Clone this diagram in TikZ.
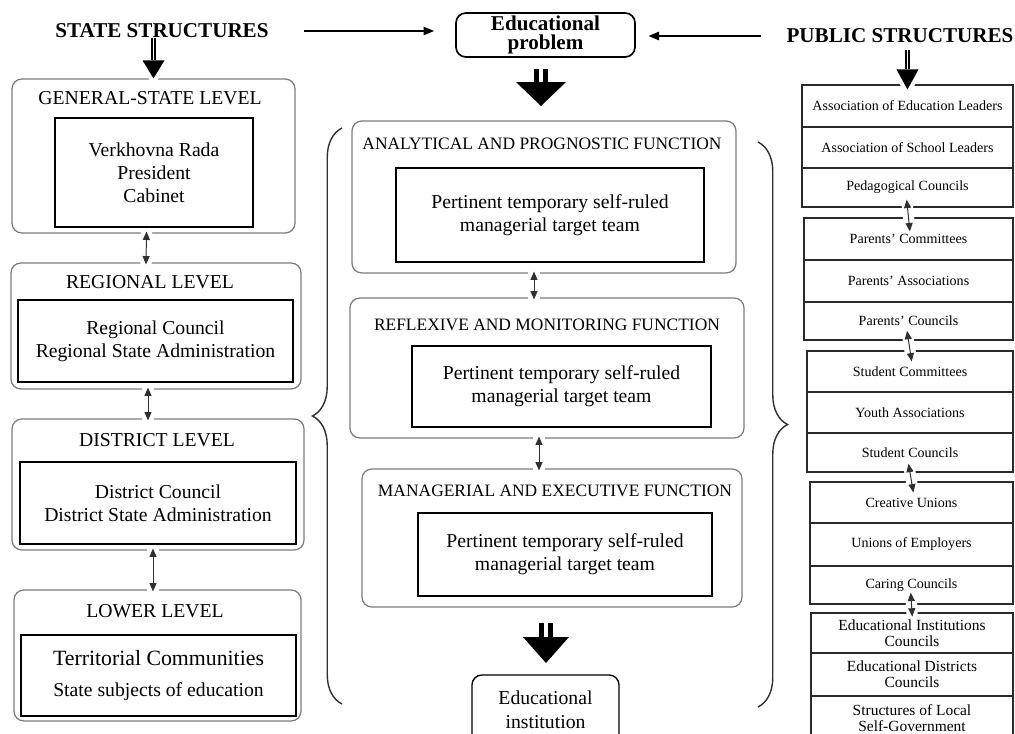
\documentclass[tikz,border=0pt]{standalone}
\usepackage{fontspec}
\setmainfont{Liberation Serif}
\usetikzlibrary{arrows.meta,calc,fit,decorations.pathreplacing}
\definecolor{FrameGrey}{HTML}{7C7C7C}
\definecolor{CellInk}{HTML}{2A2A2A}
\definecolor{LinkInk}{HTML}{303030}
% twin-shaft arrow: style, start, tip, half width, head length
\newcommand{\twinarrow}[5]{\fill[preaction={draw=white,line width=6pt}] ($(#3)+(-#4,-#5)$)--(#3)--($(#3)+(#4,-#5)$)--cycle;
  \draw[#1] (#2) -- ($(#3)+(0,-#5)$);}

\begin{document}
\begin{tikzpicture}[x=0.025cm,y=-0.025cm,
  every node/.style={text=black,font=\fontsize{14}{16.3}\selectfont},
  head/.style={font=\fontsize{15}{18}\selectfont\bfseries,inner sep=0pt},
  ttl/.style={inner sep=0pt},
  fttl/.style={inner sep=0pt,font=\fontsize{12.4}{15}\selectfont},
  txt/.style={inner sep=0pt,align=center},
  ctxt/.style={txt,font=\fontsize{10}{11}\selectfont},
  etxt/.style={txt,font=\fontsize{11}{11.5}\selectfont},
  level/.style={draw=FrameGrey,line width=0.9pt,rounded corners=7pt,inner sep=0pt},
  body/.style={draw=black,line width=1.4pt,inner sep=0pt},
  cell/.style={draw=CellInk,line width=0.8pt,inner sep=0pt},
  roundbox/.style={draw=black,line width=1.2pt,rounded corners=7pt,inner sep=0pt},
  link/.style={{Triangle[width=5pt,length=6pt]}-{Triangle[width=5pt,length=6pt]},LinkInk,line width=0.7pt,shorten <=-1.5pt,shorten >=-1.5pt,preaction={draw=white,line width=8pt,-}},
  feed/.style={-{Triangle[width=6pt,length=7.5pt]},line width=1pt},
  twinthin/.style={double,line width=1.4pt,double distance=1.3pt},
  twinbold/.style={double,line width=4pt,double distance=2.3pt},
  brace/.style={decorate,decoration={brace,amplitude=21pt},line width=1pt,LinkInk}]
\useasboundingbox (0,0) rectangle (1015,733);
% top row
\node[head] (ss) at (162,31) {STATE STRUCTURES};
\node[head] (ps) at (900,36) {PUBLIC STRUCTURES};
\node[roundbox,fit={(456,13)(635,57)},label={[txt,font=\fontsize{15}{13.5}\selectfont\bfseries]center:Educational\\problem}] (prob) {};
\draw[feed,shorten <=25pt,shorten >=15pt] (ss.east) -- (ss.east -| prob.west);
\draw[feed,shorten <=18pt,shorten >=9pt] (ps.west) -- (ps.west -| prob.east);
% state structures
\node[level,fit={(12,79)(295,233)}] (gen) {};\node[ttl] (gent) at (150,98) {GENERAL-STATE LEVEL};
\node[body,fit={(55,118)(253,227)},label={[txt]center:Verkhovna Rada\\President\\Cabinet}] (genb) {};
\node[level,fit={(11,263)(301,389)}] (reg) {};\node[ttl] (regt) at (150,282) {REGIONAL LEVEL};
\node[body,fit={(18,300)(293,382)},label={[txt]center:Regional Council\\Regional State Administration}] (regb) {};
\node[level,fit={(12,419)(304,550)}] (dist) {};\node[ttl] (distt) at (157,440) {DISTRICT LEVEL};
\node[body,fit={(20,462)(296,544)},label={[txt]center:District Council\\District State Administration}] (distb) {};
\node[level,fit={(14,590)(301,721)}] (low) {};\node[ttl] (lowt) at (155,611) {LOWER LEVEL};
\node[body,fit={(21,635)(296,716)},label={[txt]center:{\fontsize{15.5}{18}\selectfont Territorial Communities}\\[6pt]State subjects of education}] (lowb) {};
\draw[link] ($(gen.south)+(-7,0)$) -- ($(reg.north)+(-10,0)$);
\draw[link] ($(reg.south)+(-8,0)$) -- ($(dist.north)+(-10,0)$);
\draw[link] ($(dist.south)+(-5,0)$) -- ($(low.north)+(-4.5,0)$);
\twinarrow{twinthin}{gen.north |- ss.south}{gen.north}{11}{18}
% functions
\node[level,fit={(352,121)(736,273)}] (f1) {};\node[fttl] (f1t) at (542,144) {ANALYTICAL AND PROGNOSTIC FUNCTION};
\node[body,fit={(396,168)(704,262)},label={[txt]center:Pertinent temporary self-ruled\\managerial target team}] (f1b) {};
\node[level,fit={(350,298)(744,438)}] (f2) {};\node[fttl] (f2t) at (547,325) {REFLEXIVE AND MONITORING FUNCTION};
\node[body,fit={(412,346)(711,427)},label={[txt]center:Pertinent temporary self-ruled\\managerial target team}] (f2b) {};
\node[level,fit={(362,469)(742,607)}] (f3) {};\node[fttl] (f3t) at (555,491) {MANAGERIAL AND EXECUTIVE FUNCTION};
\node[body,fit={(418,513)(712,596)},label={[txt]center:Pertinent temporary self-ruled\\managerial target team}] (f3b) {};
\draw[link] ($(f1.south)+(-10,0)$) -- ($(f2.north)+(-13,0)$);
\draw[link] ($(f2.south)+(-8,0)$) -- ($(f3.north)+(-13,0)$);
\draw[brace] (342,704) -- (342,128);
\draw[brace] (758,142) -- (758,707);
\coordinate (tipA) at (541,106);\twinarrow{twinbold,shorten <=8pt}{prob.south -| tipA}{tipA}{25}{24}
\coordinate (tipB) at (546,663);\twinarrow{twinbold,shorten <=11pt}{f3.south -| tipB}{tipB}{23}{26}
\node[roundbox,line width=1pt,fit={(472,675)(619,745)},label={[txt,font=\fontsize{14}{17}\selectfont]center:Educational\\institution}] (inst) {};
% public structures
\node[cell,fit={(802,85)(1013,127)},label={[ctxt]center:Association of Education Leaders}] (ael) {};
\node[cell,fit={(802,127)(1013,168)},label={[ctxt]center:Association of School Leaders}] (asl) {};
\node[cell,fit={(802,168)(1013,207)},label={[ctxt]center:Pedagogical Councils}] (pedc) {};
\node[cell,fit={(804,218)(1013,260)},label={[ctxt]center:Parents' Committees}] (parc) {};
\node[cell,fit={(804,260)(1013,302)},label={[ctxt]center:Parents' Associations}] (para) {};
\node[cell,fit={(804,302)(1013,340)},label={[ctxt]center:Parents' Councils}] (parco) {};
\node[cell,fit={(807,351)(1013,392)},label={[ctxt]center:Student Committees}] (stc) {};
\node[cell,fit={(807,392)(1013,433)},label={[ctxt]center:Youth Associations}] (ya) {};
\node[cell,fit={(807,433)(1013,472)},label={[ctxt]center:Student Councils}] (stco) {};
\node[cell,fit={(810,482)(1013,523)},label={[ctxt]center:Creative Unions}] (cu) {};
\node[cell,fit={(810,523)(1013,566)},label={[ctxt]center:Unions of Employers}] (ue) {};
\node[cell,fit={(810,566)(1013,604)},label={[ctxt]center:Caring Councils}] (cc) {};
\node[cell,fit={(811,613)(1013,653)},label={[etxt]center:Educational Institutions\\Councils}] (eic) {};
\node[cell,fit={(811,653)(1013,696)},label={[etxt]center:Educational Districts\\Councils}] (edc) {};
\node[cell,fit={(811,696)(1013,740)},label={[etxt]center:Structures of Local\\Self-Government}] (slg) {};
\draw[link,shorten <=-5.7pt,shorten >=-10pt] (pedc.south) -- (parc.north);
\draw[link,shorten <=-7pt,shorten >=-8pt] (parco.south) -- (stc.north);
\draw[link,shorten <=-6.4pt,shorten >=-8pt] (stco.south) -- (cu.north);
\draw[link,shorten <=-8.5pt,shorten >=-3pt] (cc.south) -- (eic.north);
\coordinate (pubtip) at ($(ael.north)+(0,5)$);\twinarrow{twinthin,shorten <=5pt}{pubtip |- ps.south}{pubtip}{11}{20}
\end{tikzpicture}
\end{document}
